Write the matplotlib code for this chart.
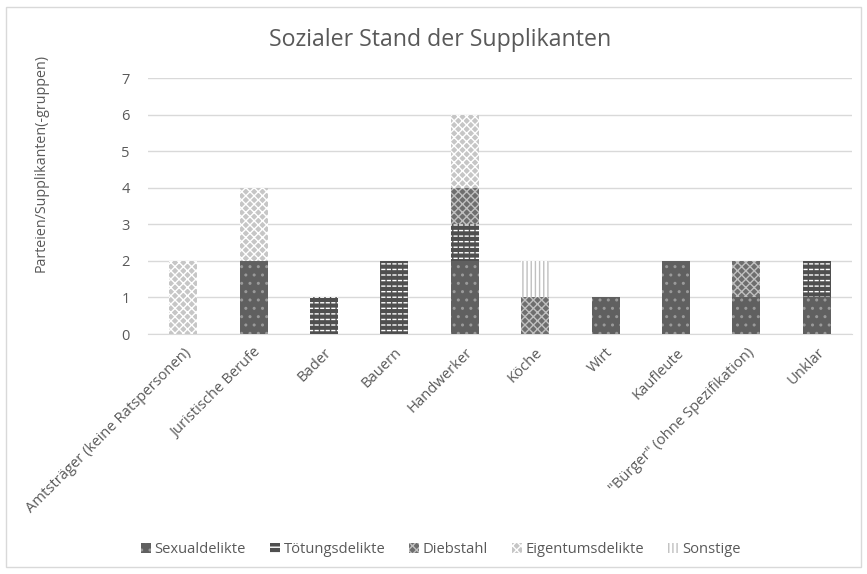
import matplotlib.pyplot as plt
import matplotlib.patches as mpatches
import numpy as np

plt.rcParams['font.family'] = ['Open Sans', 'DejaVu Sans']
plt.rcParams['hatch.linewidth'] = 1.0

# ── Data ──────────────────────────────────────────────────────────────────────
categories = [
    "Amtsträger (keine Ratspersonen)", "Juristische Berufe", "Bader",
    "Bauern", "Handwerker", "Köche", "Wirt", "Kaufleute",
    "\"Bürger\" (ohne Spezifikation)", "Unklar",
]
series_names = ["Sexualdelikte", "Tötungsdelikte", "Diebstahl",
                "Eigentumsdelikte", "Sonstige"]
sexualdelikte    = [0, 2, 0, 0, 2, 0, 1, 2, 1, 1]
toetungsdelikte  = [0, 0, 1, 2, 1, 0, 0, 0, 0, 1]
diebstahl        = [0, 0, 0, 0, 1, 1, 0, 0, 1, 0]
eigentumsdelikte = [2, 2, 0, 0, 2, 0, 0, 0, 0, 0]
sonstige         = [0, 0, 0, 0, 0, 1, 0, 0, 0, 0]
series_values = [sexualdelikte, toetungsdelikte, diebstahl,
                 eigentumsdelikte, sonstige]

# face colour, hatch, hatch colour, optional overlay hatch (breaks lines into dashes)
styles = [
    ("#606060", "..", "#9a9a9a", None),
    ("#4f4f4f", "---", "#ffffff", "|||"),
    ("#6e6e6e", "xxxx", "#c0c0c0", None),
    ("#c6c6c6", "xxxx", "#ffffff", None),
    ("#ffffff", "||||", "#c0c0c0", None),
]

text_col = "#595959"
grid_col = "#d9d9d9"

fig = plt.figure(figsize=(8.67, 5.74), dpi=100)
ax = fig.add_axes([0.1707, 0.418, 0.812, 0.446])

x = np.arange(len(categories))
bottom = np.zeros(len(categories))
handles = []
for name, vals, (fc, hatch, hc, over) in zip(series_names, series_values, styles):
    vals = np.array(vals, dtype=float)
    ax.bar(x, vals, width=0.4, bottom=bottom, color=fc, hatch=hatch,
           edgecolor=hc, linewidth=0, zorder=3)
    if over:
        ax.bar(x, vals, width=0.4, bottom=bottom, facecolor="none",
               hatch=over, edgecolor=fc, linewidth=0, zorder=4)
    bottom += vals
    handles.append(mpatches.Patch(facecolor=fc, hatch=hatch, edgecolor=hc,
                                  linewidth=0, label=name))

ax.set_xlim(-0.5, len(categories) - 0.5)
ax.set_ylim(0, 7)
ax.set_yticks(range(0, 8))
ax.grid(True, axis="y", color=grid_col, linewidth=1, zorder=0)
for s in ["top", "right", "left"]:
    ax.spines[s].set_visible(False)
ax.spines["bottom"].set_color(grid_col)
ax.tick_params(length=0, colors=text_col, labelsize=10.5)
ax.tick_params(axis="y", pad=13)
ax.set_xticks(x)
ax.set_xticklabels(categories, rotation=45, ha="right",
                   rotation_mode="anchor", fontsize=10.6, color=text_col)
ax.tick_params(axis="x", pad=8)

# axis title (placed like the spreadsheet does, above the axis centre)
fig.text(0.048, 0.716, "Parteien/Supplikanten(-gruppen)", rotation=90,
         ha="center", va="center", fontsize=10.3, color=text_col)

fig.text(0.508, 0.930, "Sozialer Stand der Supplikanten", ha="center",
         va="center", fontsize=16.7, color=text_col)

fig.legend(handles=handles, loc="center", bbox_to_anchor=(0.508, 0.043),
           ncol=5, frameon=False, fontsize=10.6, handlelength=0.7,
           handleheight=0.7, handletextpad=0.25, columnspacing=1.6,
           labelcolor=text_col)

# outer chart border
fig.patches.append(mpatches.Rectangle((6 / 867, 7 / 574), 855 / 867,
                                      560 / 574, transform=fig.transFigure,
                                      fill=False, edgecolor=grid_col,
                                      linewidth=1))

fig.savefig("out.png", dpi=100)
